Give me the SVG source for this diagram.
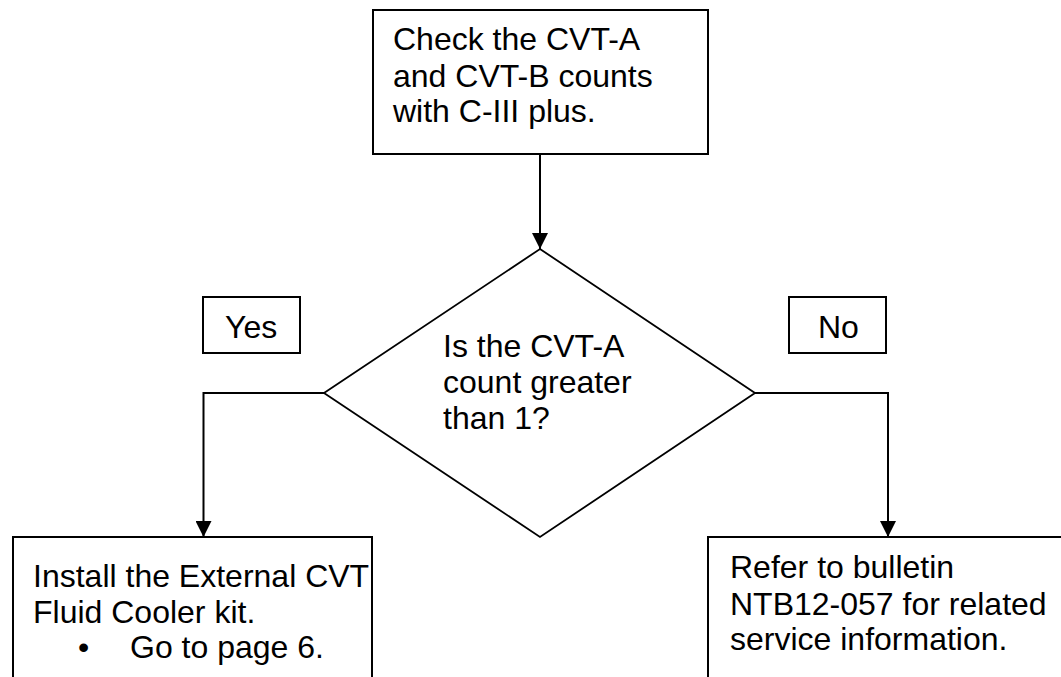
<svg xmlns="http://www.w3.org/2000/svg" width="1061" height="677" viewBox="0 0 1061 677">
<style>
.box{fill:#fff;stroke:#000;stroke-width:2}
.dia{fill:#fff;stroke:#000;stroke-width:1.8}
.t{font-family:"Liberation Sans",Arial,sans-serif;font-size:32px;fill:#000}
.c{fill:none;stroke:#000;stroke-width:2}
</style>
<defs>
<marker id="ah" markerUnits="userSpaceOnUse" markerWidth="16" markerHeight="16" viewBox="0 0 16 16" refX="16" refY="8" orient="auto">
<path d="M0,0 L16,8 L0,16 Z" fill="#000"/>
</marker>
</defs>
<rect width="1061" height="677" fill="#fff"/>
<g id="connectors">
<path class="c" d="M540,154 V249" marker-end="url(#ah)"/>
<path class="c" d="M324,393 H203.5 V537" marker-end="url(#ah)"/>
<path class="c" d="M755,393 H888 V537" marker-end="url(#ah)"/>
</g>
<g id="check">
<rect class="box" x="373" y="10" width="335" height="144"/>
<text class="t" x="393" y="50">Check the CVT-A</text>
<text class="t" x="393" y="87">and CVT-B counts</text>
<text class="t" x="393" y="122">with C-III plus.</text>
</g>
<g id="decision">
<polygon class="dia" points="540,249 755,393 540,537 324,393"/>
<text class="t" x="443" y="357">Is the CVT-A</text>
<text class="t" x="443" y="393">count greater</text>
<text class="t" x="443" y="429">than 1?</text>
</g>
<g id="yes">
<rect class="box" x="203" y="297" width="97" height="56"/>
<text class="t" x="225" y="338">Yes</text>
</g>
<g id="no">
<rect class="box" x="789" y="297" width="97" height="56"/>
<text class="t" x="818" y="338">No</text>
</g>
<g id="install">
<rect class="box" x="13" y="537" width="359" height="160"/>
<text class="t" x="33" y="587">Install the External CVT</text>
<text class="t" x="33" y="623">Fluid Cooler kit.</text>
<text class="t" x="78" y="658">•</text>
<text class="t" x="130" y="658">Go to page 6.</text>
</g>
<g id="refer">
<rect class="box" x="708" y="537" width="370" height="160"/>
<text class="t" x="730" y="578">Refer to bulletin</text>
<text class="t" x="730" y="615">NTB12-057 for related</text>
<text class="t" x="730" y="650">service information.</text>
</g>
</svg>
